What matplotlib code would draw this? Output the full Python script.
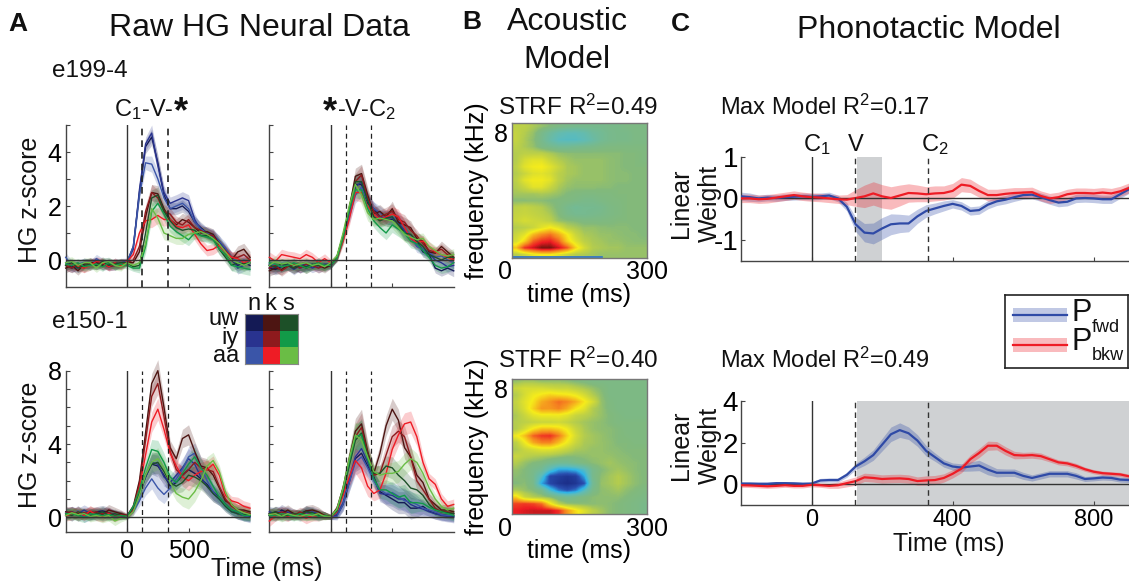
import matplotlib
matplotlib.use("Agg")
import matplotlib.pyplot as plt
import numpy as np
from matplotlib.colors import LinearSegmentedColormap, to_rgb

plt.rcParams['font.family'] = ['Liberation Sans', 'DejaVu Sans']
plt.rcParams['mathtext.default'] = 'regular'
W, H = 1129, 583

time_a = [-500,-450,-400,-350,-300,-250,-200,-150,-100,-50,0,50,100,150,200,250,300,350,400,450,500,550,600,650,700,750,800,850,900,950,1000]

# ---- e199-4, C1 aligned
tl_uw_n = [-.2,-.3,-.2,-.1,-.15,-.05,-.2,-.2,-.1,-.15,-.1,.5,2.5,4.2,4.55,3.6,2.4,1.9,1.9,2.0,1.8,1.4,1.2,1.0,.9,.7,.3,0,-.2,-.1,-.2]
tl_iy_n = [-.1,-.25,-.3,-.15,-.1,-.2,-.1,-.25,-.2,-.1,-.05,.4,2.6,4.3,4.7,3.5,2.5,2.1,2.2,2.3,2.2,1.5,1.1,1.0,.85,.6,.4,.1,-.3,-.2,-.1]
tl_aa_n = [.1,-.2,-.15,-.1,-.2,.05,-.1,-.05,-.2,-.15,-.05,.5,2.4,3.6,3.55,3.0,2.3,1.9,2.0,2.1,1.9,1.4,1.15,1.0,.95,.7,.45,.1,-.1,.0,-.1]
tl_uw_k = [-.3,-.2,-.4,-.15,-.1,-.1,-.2,-.1,-.15,-.2,-.1,-.1,.3,1.6,2.5,2.45,1.9,1.5,1.3,1.5,1.4,1.2,1.0,1.05,.95,.6,.3,.0,.3,.4,.1]
tl_iy_k = [-.2,-.3,-.15,-.3,-.1,-.2,-.1,-.25,-.2,-.1,-.1,.0,.5,1.8,2.5,2.3,1.8,1.7,1.4,1.3,1.5,1.2,1.1,.95,.9,.55,.35,.1,.1,.2,.0]
tl_aa_k = [-.2,-.15,-.25,-.3,-.2,-.05,-.1,-.25,-.1,-.2,-.05,.2,1.0,1.45,1.5,1.65,1.5,1.5,1.25,1.2,1.3,.95,.6,.35,.4,.55,.3,.1,.05,-.1,.0]
tl_uw_s = [-.2,-.1,-.3,-.2,-.15,-.2,-.05,-.2,-.15,-.1,-.1,-.25,-.2,1.0,2.3,2.4,1.8,1.45,1.2,1.1,1.15,1.1,.9,.9,.8,.4,.1,-.2,-.1,-.15,-.1]
tl_iy_s = [-.15,-.2,-.1,-.25,-.2,-.15,-.25,-.1,-.2,-.15,-.2,-.3,-.3,.5,1.8,2.1,1.7,1.25,1.05,.9,.75,1.0,.9,.85,.75,.4,.2,-.2,-.25,-.3,-.35]
tl_aa_s = [-.1,-.05,-.2,-.1,-.1,-.3,-.1,-.05,-.2,-.25,-.1,-.2,-.1,.6,1.9,1.55,1.0,.9,.8,.8,.95,1.0,1.05,.95,.8,.6,.3,.0,-.1,-.2,-.1]
tl_sem = [.18,.17,.16,.17,.18,.16,.17,.15,.17,.16,.12,.12,.18,.25,.3,.3,.25,.23,.22,.23,.22,.22,.2,.2,.2,.2,.2,.2,.22,.22,.22]

# ---- e199-4, C2 aligned
tr_uw_n = [-.3,-.35,-.25,-.15,-.2,-.3,-.2,-.2,-.1,-.25,-.2,.1,.9,1.8,2.8,2.8,2.1,1.9,1.6,1.5,1.5,1.4,1.0,.9,.7,.3,.2,-.3,-.4,-.3,-.4]
tr_iy_n = [-.2,-.3,-.15,-.2,-.35,-.2,-.15,-.3,-.2,-.15,-.15,.05,.85,1.7,2.7,2.9,2.2,1.8,1.55,1.6,1.55,1.35,1.1,.8,.6,.4,.25,.0,-.1,-.25,-.2]
tr_aa_n = [-.15,-.2,-.25,-.2,-.15,-.3,-.2,-.15,-.3,-.2,-.2,.1,.9,1.6,2.4,2.7,2.2,1.9,1.75,1.55,1.6,1.5,1.2,.9,.5,.4,.3,.1,.15,.0,-.1]
tr_uw_k = [-.4,-.3,-.35,-.2,-.3,-.2,-.3,-.2,-.2,-.3,-.2,.1,.8,1.9,3.1,3.2,2.4,1.7,1.8,1.6,1.9,1.4,1.3,1.2,.8,.7,.3,.25,.5,.3,.1]
tr_iy_k = [-.3,-.2,-.4,-.25,-.15,-.3,-.15,-.2,-.3,-.2,-.15,.1,.85,1.85,2.9,3.15,2.3,1.8,1.6,1.7,1.8,1.5,1.4,1.1,.9,.6,.35,.3,.4,.2,.05]
tr_aa_k = [.1,-.05,.2,.15,.1,.05,.2,.1,-.1,.05,-.1,.05,.7,1.5,2.5,2.5,2.0,1.7,1.5,1.6,1.7,1.6,1.2,.8,.65,.7,.5,.3,.2,.1,.0]
tr_uw_s = [-.2,-.25,-.15,-.2,-.3,-.2,-.25,-.15,-.2,-.2,-.15,.1,.9,1.9,2.9,2.9,2.2,1.6,1.45,1.55,1.6,1.3,1.0,.95,.7,.5,.2,.1,.0,.1,.1]
tr_iy_s = [-.1,-.15,-.25,-.2,-.1,-.2,-.3,-.2,-.1,-.2,-.2,.05,.8,1.85,2.6,2.6,1.9,1.45,1.2,1.0,1.3,1.15,1.0,.7,.6,.35,.1,-.2,-.3,-.25,-.1]
tr_aa_s = [-.2,-.05,-.15,-.1,-.2,-.15,-.1,-.2,-.15,-.25,-.1,.15,1.0,2.0,2.8,2.4,1.75,1.5,1.55,1.5,1.45,1.2,.95,.85,.75,.8,.5,.35,.2,.15,.2]
tr_sem = [.2,.2,.2,.18,.2,.18,.2,.17,.18,.18,.12,.12,.18,.25,.3,.35,.3,.25,.25,.25,.28,.28,.28,.25,.22,.2,.18,.18,.2,.2,.22]

# ---- e150-1, C1 aligned
bl_uw_n = [.2,.3,.1,.2,.15,.3,.35,.25,.15,.1,.05,.5,1.3,2.2,2.9,2.8,2.3,1.7,1.9,2.3,2.6,2.4,2.1,1.8,1.4,1.1,.7,.4,.2,.1,.05]
bl_iy_n = [.1,.3,.2,.4,.2,.1,.25,.2,.1,.15,.0,.4,1.2,2.2,3.0,2.9,2.2,1.9,2.3,2.7,3.2,2.9,2.2,1.7,1.3,1.0,.7,.4,.3,.15,.1]
bl_aa_n = [.3,.1,.35,.0,.15,.2,.1,.2,.15,.05,.05,.3,.9,1.6,2.1,1.6,1.25,1.6,2.1,2.6,3.3,3.5,2.8,2.0,1.4,1.0,.6,.3,.2,.1,.0]
bl_uw_k = [.3,.25,.2,.15,.3,.25,.15,.4,.3,.2,.1,.6,2.0,4.6,7.3,8.0,6.0,3.8,3.2,4.3,4.5,3.6,2.8,2.7,2.3,1.6,.9,.7,.4,.4,.3]
bl_iy_k = [.2,.3,.1,.25,.2,.3,.2,.25,.1,.15,.1,.5,1.8,4.2,6.6,7.3,5.5,3.6,2.6,2.3,2.6,3.0,2.7,2.6,2.5,1.7,1.0,.6,.4,.3,.2]
bl_aa_k = [.1,.15,.3,.1,.35,.1,.05,.2,.0,.1,.05,.4,1.6,3.4,5.2,5.9,4.8,3.5,2.8,2.2,2.0,2.3,2.5,2.6,2.9,2.3,1.2,.9,.8,.6,.5]
bl_uw_s = [.2,.1,.3,.2,.1,.2,.3,.1,.2,.1,.05,.5,1.3,2.3,2.9,3.0,2.5,1.9,1.7,1.9,2.3,2.2,2.0,1.7,1.3,1.0,.6,.3,.2,.15,.1]
bl_iy_s = [.2,.2,.1,.0,.2,.15,.1,.15,.05,.1,.05,.6,1.5,2.7,3.7,3.6,3.0,2.2,1.9,2.4,2.9,3.3,2.7,2.3,1.7,1.1,.7,.4,.3,.1,.1]
bl_aa_s = [.1,.25,.15,.2,.05,.1,.0,.1,-.2,-.05,.0,.3,1.2,2.3,3.0,3.2,2.7,1.9,1.3,1.1,1.0,1.4,2.0,2.8,3.1,2.5,1.4,.7,.4,.25,.15]
bl_sem = [.3,.3,.3,.28,.3,.28,.3,.3,.25,.2,.12,.2,.3,.4,.55,.6,.5,.4,.4,.5,.55,.55,.5,.5,.45,.35,.3,.25,.3,.3,.3]

# ---- e150-1, C2 aligned
br_uw_n = [.2,.1,.4,.25,.1,.2,.35,.2,.15,.1,.0,.1,.7,1.9,3.2,3.5,2.8,2.2,1.4,1.2,1.0,.8,.8,.5,.5,.6,.35,.2,.15,.1,.05]
br_iy_n = [.3,.2,.15,.3,.2,.1,.25,.3,.2,.1,.0,.15,.8,2.1,3.3,3.75,3.0,2.1,1.3,1.25,1.2,1.0,1.0,.7,.55,.45,.3,.2,.1,.05,.0]
br_aa_n = [.1,.3,.3,.1,.15,.05,.2,.15,.1,.1,.0,.05,.7,1.9,3.0,3.3,2.7,2.0,1.5,1.3,1.35,1.15,.9,.85,.7,.5,.4,.3,.15,.1,.1]
br_uw_k = [.1,.3,.2,.4,.2,.15,.35,.4,.3,.1,.05,.5,1.6,3.2,4.7,5.1,3.6,2.4,3.5,5.0,5.9,5.3,3.8,3.3,2.3,1.9,1.0,.7,.4,.4,.3]
br_iy_k = [.2,.15,.3,.2,.1,.3,.15,.2,.2,.1,.05,.4,1.5,3.0,4.4,4.9,3.5,2.3,2.4,3.4,4.4,4.7,4.4,3.3,2.0,1.5,1.0,.5,.3,.3,.2]
br_aa_k = [-.2,.1,.2,.05,.2,.1,-.05,.1,.05,.1,.0,.3,1.2,2.2,3.1,2.7,1.7,1.3,1.5,2.4,3.7,4.5,5.1,5.2,4.4,3.0,2.1,1.8,1.0,.6,.7]
br_uw_s = [.2,.3,.1,.1,.2,.15,.3,.25,.1,.1,.05,.35,1.4,2.8,4.2,4.6,3.4,2.4,2.4,2.8,2.7,2.3,2.0,1.6,1.5,1.2,.7,.4,.3,.25,.2]
br_iy_s = [.1,.1,.2,.15,.05,.2,.1,.2,.05,.1,.0,.4,1.5,3.0,4.4,4.5,3.2,2.1,1.5,1.5,1.3,1.1,1.2,.8,.8,.75,.55,.4,.3,.2,.1]
br_aa_s = [.15,.2,.05,.2,.1,.05,.15,.1,.2,.05,.05,.45,1.6,3.2,4.5,4.2,3.3,2.5,2.3,2.4,2.4,2.5,2.9,3.2,3.0,2.4,1.6,1.0,.6,.4,.5]
br_sem = [.3,.3,.3,.28,.25,.25,.3,.3,.25,.2,.12,.2,.35,.5,.7,.8,.55,.4,.45,.55,.6,.6,.6,.6,.5,.4,.3,.3,.3,.3,.3]

line_order = ['uw_n','iy_n','aa_n','uw_k','iy_k','aa_k','uw_s','iy_s','aa_s']
line_colors = {'uw_n':'#141a55','iy_n':'#29338f','aa_n':'#3a55a8',
               'uw_k':'#4d1512','iy_k':'#8e1a1d','aa_k':'#ee1c25',
               'uw_s':'#1d5028','iy_s':'#129a48','aa_s':'#6abd45'}
key_rows = ['uw','iy','aa']
key_cols = ['n','k','s']

# ---- Phonotactic model
time_c = [-200,-175,-150,-125,-100,-75,-50,-25,0,25,50,75,100,125,150,175,200,225,250,275,300,325,350,375,400,425,450,475,500,525,550,575,600,625,650,675,700,725,750,775,800,825,850,875,900]
c1_fwd = [.05,.03,.0,.02,.01,.03,.04,.05,.04,.05,.07,.0,-.2,-.62,-.82,-.84,-.72,-.62,-.6,-.6,-.43,-.3,-.24,-.18,-.13,-.18,-.3,-.28,-.15,-.07,-.03,.03,.08,.09,.03,-.04,-.1,-.08,.0,.01,.0,-.02,-.02,.1,.22]
c1_bkw = [.0,.0,-.02,-.01,.02,.05,.08,.05,.03,.02,.0,-.02,-.03,.01,.05,.12,.05,.01,.07,.13,.12,.1,.12,.13,.18,.33,.3,.18,.08,.08,.11,.13,.14,.15,.06,.0,.03,.1,.13,.13,.12,.14,.12,.17,.25]
c1_fwd_sem = [.1,.1,.08,.08,.08,.08,.08,.08,.08,.08,.08,.08,.1,.17,.22,.25,.26,.25,.22,.2,.17,.15,.13,.12,.1,.1,.1,.1,.1,.1,.1,.1,.1,.1,.1,.1,.1,.1,.1,.1,.1,.1,.1,.1,.1]
c1_bkw_sem = [.1,.1,.1,.1,.1,.1,.1,.1,.1,.1,.1,.1,.12,.2,.27,.28,.28,.27,.25,.22,.2,.18,.18,.17,.18,.17,.16,.15,.14,.14,.13,.13,.12,.12,.12,.12,.12,.12,.12,.12,.12,.12,.12,.12,.12]
c2_fwd = [.03,.03,.02,.02,.05,.05,.04,.02,.03,.18,.2,.2,.45,.85,1.1,1.4,1.9,2.4,2.6,2.45,2.1,1.6,1.3,1.0,.85,.8,.85,.9,.7,.55,.55,.55,.4,.3,.4,.5,.5,.5,.4,.25,.28,.32,.3,.22,.2]
c2_bkw = [-.05,-.06,-.08,-.1,-.08,-.05,-.08,-.08,-.03,-.05,-.08,-.05,.05,.15,.33,.3,.25,.27,.28,.25,.15,.18,.2,.3,.5,.75,1.2,1.5,1.85,1.85,1.6,1.4,1.38,1.4,1.35,1.2,1.05,1.0,.88,.72,.6,.53,.5,.47,.38]
c2_fwd_sem = [.08,.08,.08,.08,.08,.08,.08,.08,.08,.1,.1,.1,.12,.15,.2,.25,.3,.35,.35,.3,.28,.25,.2,.18,.17,.18,.22,.25,.25,.2,.18,.18,.17,.15,.15,.15,.15,.15,.15,.12,.12,.12,.12,.12,.12]
c2_bkw_sem = [.1,.1,.1,.1,.1,.1,.1,.1,.1,.1,.12,.15,.18,.2,.2,.2,.2,.2,.2,.2,.2,.22,.22,.2,.2,.2,.2,.22,.22,.2,.2,.18,.15,.15,.15,.13,.12,.12,.12,.1,.1,.1,.1,.1,.1]

# ---- STRF weights, rows from highest frequency to lowest
strf1 = [
 [.15,.15,.1,.05,.0,-.05,-.08,-.1,-.1,-.1,-.1,-.08,-.08,-.05,-.05,-.05],
 [.18,.12,.05,-.08,-.2,-.3,-.35,-.35,-.3,-.2,-.15,-.1,-.08,-.08,-.05,-.05],
 [.18,.1,.03,-.1,-.25,-.38,-.4,-.4,-.35,-.25,-.15,-.1,-.08,-.08,-.05,-.05],
 [.15,.1,.05,-.05,-.1,-.15,-.15,-.12,-.1,-.08,-.05,-.03,-.03,-.03,-.03,-.03],
 [.12,.15,.15,.15,.1,.05,.03,.02,.02,.02,.02,.02,.02,.0,.0,-.02],
 [.12,.25,.3,.3,.2,.12,.08,.05,.05,.05,.05,.03,.02,.0,.0,-.02],
 [.15,.3,.36,.38,.3,.2,.1,.08,.05,.05,.05,.03,.02,.0,.0,.0],
 [.12,.2,.28,.3,.25,.15,.1,.08,.05,.05,.05,.03,.02,.02,.0,.0],
 [.15,.3,.36,.36,.3,.15,.08,.05,.05,.05,.05,.03,.02,.02,.0,.0],
 [.12,.2,.3,.3,.2,.1,.05,.03,.03,.03,.02,.02,.0,.0,.0,.0],
 [.08,.08,.08,.1,.08,.05,.0,-.02,-.03,-.03,-.02,-.02,.0,.0,.0,.0],
 [.02,.02,.03,.02,.0,-.02,-.03,-.05,-.08,-.08,-.05,-.03,-.02,.0,.0,.0],
 [.15,.18,.15,.12,.05,-.02,-.1,-.15,-.12,-.12,-.1,-.05,-.03,.0,.0,.0],
 [.18,.2,.18,.15,.1,.0,-.08,-.12,-.12,-.1,-.08,-.05,-.03,.0,.0,.0],
 [.2,.25,.22,.2,.15,.05,.02,.0,-.03,-.03,-.03,-.02,.0,.0,.0,.0],
 [.12,.15,.2,.3,.38,.3,.15,.1,.05,.05,.03,.02,.02,.02,.0,.0],
 [.2,.3,.5,.62,.68,.55,.38,.2,.1,.08,.05,.05,.03,.02,.02,.0],
 [.25,.45,.72,.82,.85,.72,.45,.28,.15,.1,.08,.05,.05,.03,.02,.02],
 [.5,.82,.9,1.,1.,.9,.75,.45,.25,.12,.1,.08,.08,.05,.05,.05],
 [.12,.2,.32,.38,.38,.3,.2,.12,.1,.08,.05,.05,.05,.05,.05,.05],
]
strf2 = [
 [.05,.08,.08,.05,.05,.05,.03,.0,-.02,-.05,-.05,-.05,-.05,-.05,-.05,-.05],
 [.2,.25,.25,.25,.22,.2,.2,.15,.1,.05,.0,-.05,-.05,-.05,-.05,-.05],
 [.12,.25,.35,.4,.45,.42,.4,.35,.25,.12,.03,-.05,-.05,-.05,-.05,-.05],
 [.18,.3,.4,.55,.62,.7,.65,.55,.4,.25,.05,-.03,-.05,-.05,-.05,-.05],
 [.15,.28,.45,.6,.6,.65,.55,.4,.3,.12,.05,-.02,-.05,-.05,-.05,-.05],
 [.1,.2,.3,.35,.35,.35,.3,.2,.15,.1,.05,.0,-.03,-.05,-.05,-.05],
 [.12,.15,.18,.2,.2,.22,.18,.12,.08,.05,.03,.0,-.03,-.03,-.03,-.03],
 [.12,.25,.4,.5,.5,.45,.35,.2,.1,.05,.03,.02,.0,-.03,-.03,-.03],
 [.35,.5,.72,.8,.82,.68,.45,.25,.12,.08,.05,.02,.0,-.02,-.03,-.03],
 [.15,.35,.55,.65,.65,.5,.35,.2,.1,.08,.05,.03,.0,.0,-.02,-.02],
 [.1,.2,.25,.3,.3,.25,.18,.1,.08,.05,.05,.03,.02,.0,.0,.0],
 [.2,.15,.12,.1,.08,.05,.02,.02,.03,.05,.05,.05,.03,.02,.0,.0],
 [.12,.05,.0,-.03,-.1,-.15,-.15,-.08,-.02,.02,.05,.08,.05,.03,.02,.0],
 [.05,.0,-.08,-.15,-.4,-.6,-.6,-.55,-.4,-.1,.0,.05,.08,.05,.02,.0],
 [.02,.0,-.1,-.4,-.85,-.9,-.95,-.9,-.6,-.1,.03,.08,.12,.08,.03,.0],
 [.0,.02,-.08,-.6,-.85,-.95,-1.,-.95,-.8,-.15,.05,.08,.12,.08,.03,.0],
 [.1,.05,.0,-.1,-.45,-.7,-.8,-.7,-.4,-.08,.03,.05,.08,.03,.0,-.03],
 [.45,.2,.12,.08,.02,-.1,-.15,-.1,-.03,.02,.03,.03,.03,.0,-.03,-.05],
 [.78,.8,.78,.7,.4,.15,.05,.03,.02,.02,.03,.02,.0,-.03,-.05,-.08],
 [.85,.88,.9,.9,.9,.82,.6,.42,.28,.15,.08,.02,.0,-.03,-.05,-.08],
]
strf1_floor_time = [0, 200]
strf1_floor_freq = [.02, .02]

strf_cmap = LinearSegmentedColormap.from_list('strf', [
    (0.00, '#1c2f8a'), (0.10, '#2a4fb0'), (0.22, '#2fb5e8'), (0.32, '#5fbcb8'),
    (0.50, '#82b97c'), (0.56, '#b4cc4e'), (0.69, '#f6ec1a'), (0.83, '#f58220'),
    (0.93, '#ed1c24'), (1.00, '#7a1510')])

GRAY = '#444444'
def ax_px(x0, y0, x1, y1, **k):
    return fig.add_axes([x0/W, 1-y1/H, (x1-x0)/W, (y1-y0)/H], **k)
def txt(x, y, s, size=18, ha='center', va='center', **k):
    return fig.text(x/W, 1-y/H, s, fontsize=size, ha=ha, va=va, color='#111111', **k)

fig = plt.figure(figsize=(W/100, H/100), dpi=100)

def style(ax):
    for s in ('top', 'right'):
        ax.spines[s].set_visible(False)
    for s in ('left', 'bottom'):
        ax.spines[s].set_color(GRAY)
        ax.spines[s].set_linewidth(1.0)
    ax.tick_params(direction='in', length=3, width=.8, color=GRAY, pad=3)
    ax.patch.set_alpha(0)

def panel_a(box, prefix, sem, ylim, yticks, ylabels, xlabels, dash_style):
    ax = ax_px(*box)
    style(ax)
    g = globals()
    t = np.array(time_a)
    s = np.array(sem)
    for name in line_order:
        y = np.array(g[f'{prefix}_{name}'])
        c = line_colors[name]
        ax.fill_between(t, y-s, y+s, color=c, alpha=.22, lw=0, zorder=2, clip_on=False)
    for name in line_order:
        ax.plot(t, g[f'{prefix}_{name}'], color=line_colors[name], lw=1.0, zorder=3, clip_on=False)
    ax.axhline(0, color='#333333', lw=1.0, zorder=4)
    ax.axvline(0, color='#333333', lw=1.0, zorder=4)
    for v in (120, 330):
        ax.axvline(v, color='#222222', lw=dash_style, ls=(0, (4, 3)), zorder=4)
    ax.set_xlim(-500, 1000); ax.set_ylim(*ylim)
    ax.set_yticks(yticks); ax.set_yticklabels(ylabels, fontsize=18)
    ax.set_xticks([0, 500]); ax.set_xticklabels(xlabels, fontsize=18)
    ax.tick_params(axis='x', pad=5)
    return ax

panel_a((65.7, 125, 250, 287), 'tl', tl_sem, (-1, 5), [0,1,2,3,4,5], ['0','','2','','4',''], ['',''], 1.2)
panel_a((269.3, 125, 453.7, 287), 'tr', tr_sem, (-1, 5), [0,1,2,3,4,5], ['']*6, ['',''], .9)
panel_a((65.7, 370.7, 250, 532), 'bl', bl_sem, (-.8, 8), [0,1,2,3,4,5,6,7,8], ['0','','','','4','','','','8'], ['0','500'], .9)
panel_a((269.3, 370.7, 453.7, 532), 'br', br_sem, (-.8, 8), [0,1,2,3,4,5,6,7,8], ['']*9, ['',''], .9)

# key matrix
ax = ax_px(245, 314, 298, 364)
ax.imshow([[to_rgb(line_colors[f'{r}_{c}']) for c in key_cols] for r in key_rows], aspect='auto', interpolation='nearest')
ax.set_xticks([]); ax.set_yticks([])
for s in ax.spines.values():
    s.set_color('#888888'); s.set_linewidth(.8)
for x, s in zip((254, 270, 288), key_cols):
    txt(x, 304, s, 17)
for y, s in zip((319, 338, 356), key_rows):
    txt(239, y, s, 17, ha='right')

# STRF panels
def strf(box, data, title_y, label):
    ax = ax_px(*box)
    ax.imshow(data, cmap=strf_cmap, vmin=-1, vmax=1, aspect='auto', origin='upper',
              extent=(0, 300, 0, 8), interpolation='bilinear')
    ax.set_xticks([0, 300]); ax.set_xticklabels(['0', '300'], fontsize=18)
    ax.set_yticks([8]); ax.set_yticklabels(['8'], fontsize=18, va='top')
    ax.get_xticklabels()[0].set_ha('right')
    ax.tick_params(length=0, pad=2)
    ax.tick_params(axis='y', pad=3)
    ax.set_xlabel('time (ms)', fontsize=18, labelpad=-1)
    ax.set_ylabel('frequency (kHz)', fontsize=18, labelpad=3)
    for s in ax.spines.values():
        s.set_color('#777777'); s.set_linewidth(1.0)
    txt(578, title_y, label, 17.5)
    return ax

a1 = strf((511.7, 123.3, 646.7, 257.7), strf1, 107, 'STRF R$^2$=0.49')
a1.plot(strf1_floor_time, strf1_floor_freq, color='#2a6fd0', lw=1.2)
a1.set_xlim(0, 300); a1.set_ylim(0, 8)
strf((511.7, 379, 646.7, 514), strf2, 360, 'STRF R$^2$=0.40')

# Phonotactic panels
FWD, BKW = '#2f4aa6', '#ee1c25'
def panel_c(box, fwd, bkw, fs, bs, ylim, yt, span, xlabels):
    ax = ax_px(*box)
    style(ax)
    ax.axvspan(*span, color='#cfd1d3', lw=0, zorder=1)
    t = np.array(time_c)
    for y, s, c in ((fwd, fs, FWD), (bkw, bs, BKW)):
        y, s = np.array(y), np.array(s)
        ax.fill_between(t, y-s, y+s, color=c, alpha=.3, lw=0, zorder=2)
    ax.axhline(0, color='#333333', lw=1.0, zorder=3)
    ax.plot(t, fwd, color=FWD, lw=1.6, zorder=4)
    ax.plot(t, bkw, color=BKW, lw=1.6, zorder=5)
    ax.axvline(0, color='#333333', lw=1.0, zorder=6)
    for v in (122, 331):
        ax.axvline(v, color='#333333', lw=1.0, ls=(0, (4, 3)), zorder=6)
    ax.set_xlim(-200, 900); ax.set_ylim(*ylim)
    ax.set_yticks(yt); ax.set_yticklabels([str(v) for v in yt], fontsize=20)
    ax.set_xticks([0, 400, 800]); ax.set_xticklabels(xlabels, fontsize=17)
    ax.tick_params(axis='x', pad=3)
    ax.tick_params(axis='y', pad=2)
    return ax

panel_c((741, 156.7, 1129, 261), c1_fwd, c1_bkw, c1_fwd_sem, c1_bkw_sem, (-1.5, 1), [-1, 0, 1], (129, 200), ['', '', ''])
panel_c((741, 401, 1129, 505), c2_fwd, c2_bkw, c2_fwd_sem, c2_bkw_sem, (-1, 4), [0, 2, 4], (129, 900), ['0', '400', '800'])

# legend box
lax = ax_px(1005, 295, 1128, 368)
lax.set_xlim(0, 123); lax.set_ylim(73, 0)
lax.set_xticks([]); lax.set_yticks([])
for s in lax.spines.values():
    s.set_color('#222222'); s.set_linewidth(1.2)
for yc, c in ((20, FWD), (50, BKW)):
    lax.fill_between([8, 62], yc-7, yc+7, color=c, alpha=.3, lw=0)
    lax.plot([8, 62], [yc, yc], color=c, lw=1.6)
txt(1082, 313, 'P', 22)
txt(1082, 342, 'P', 22)
txt(1092, 327, 'fwd', 13, ha='left')
txt(1092, 356, 'bkw', 13, ha='left')

# headings and labels
txt(18, 24, 'A', 19, fontweight='bold')
txt(472, 22, 'B', 19, fontweight='bold')
txt(680, 24, 'C', 19, fontweight='bold')
txt(259, 28, 'Raw HG Neural Data', 23)
txt(567, 22, 'Acoustic', 23)
txt(567, 60, 'Model', 23)
txt(929, 30, 'Phonotactic Model', 23)
txt(52, 71, 'e199-4', 17.5, ha='left')
txt(52, 322, 'e150-1', 17.5, ha='left')
txt(114, 110, 'C$_1$-V-', 17, ha='left')
txt(181, 113, '*', 26, fontweight='bold')
txt(330, 113, '*', 26, fontweight='bold')
txt(337, 110, '-V-C$_2$', 17, ha='left')
txt(30, 200, 'HG z-score', 18, rotation=90)
txt(30, 445, 'HG z-score', 18, rotation=90)
txt(267, 569, 'Time (ms)', 18)
txt(949, 544, 'Time (ms)', 18)
txt(720, 107, 'Max Model R$^2$=0.17', 17, ha='left')
txt(720, 360, 'Max Model R$^2$=0.49', 17, ha='left')
txt(817, 145, 'C$_1$', 17)
txt(856, 145, 'V', 17)
txt(935, 145, 'C$_2$', 17)
for yc in (203, 445):
    txt(681, yc, 'Linear', 18, rotation=90)
    txt(710, yc, 'Weight', 18, rotation=90)

fig.savefig('out.png', dpi=100)
